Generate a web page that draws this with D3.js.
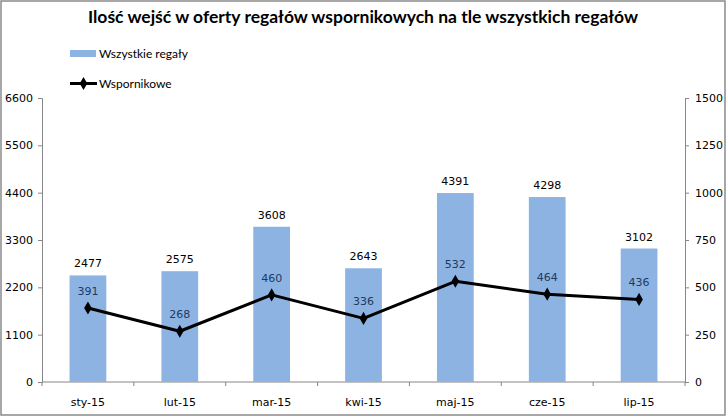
<!DOCTYPE html>
<html>
<head>
<meta charset="utf-8">
<script src="https://cdn.jsdelivr.net/npm/d3@7"></script>
<style>
  body { margin: 0; background: #fff; }
  svg { display: block; }
</style>
</head>
<body>
<div id="chart"></div>
<script>
// chart data
const months = ["sty-15", "lut-15", "mar-15", "kwi-15", "maj-15", "cze-15", "lip-15"];
const allRacks = [2477, 2575, 3608, 2643, 4391, 4298, 3102];
const cantilever = [391, 268, 460, 336, 532, 464, 436];
const leftTicks = [0, 1100, 2200, 3300, 4400, 5500, 6600];
const rightTicks = [0, 250, 500, 750, 1000, 1250, 1500];
const seriesNames = ["Wszystkie regały", "Wspornikowe"];
const title = "Ilość wejść w oferty regałów wspornikowych na tle wszystkich regałów";

const width = 728, height = 417;
const margin = { top: 98, right: 43, bottom: 35, left: 42 };
const barColor = "#8db3e2";
const tickFont = "'DejaVu Sans', Verdana, sans-serif";

const svg = d3.select("#chart").append("svg")
  .attr("width", width).attr("height", height);

// outer border
svg.append("rect")
  .attr("x", 1).attr("y", 1)
  .attr("width", 724).attr("height", 414)
  .attr("fill", "#fff")
  .attr("stroke", "#8a8a8a")
  .attr("stroke-width", 1.5);

// title
svg.append("text")
  .attr("x", 363).attr("y", 23)
  .attr("text-anchor", "middle")
  .style("font-family", "Lato, sans-serif")
  .style("font-weight", "bold")
  .style("font-size", "17.5px")
  .text(title);

// scales
const x = d3.scaleBand()
  .domain(months)
  .range([margin.left, width - margin.right])
  .paddingInner(0.6).paddingOuter(0.3);

const xOuter = d3.scaleBand()
  .domain(months)
  .range([margin.left, width - margin.right]);

const yLeft = d3.scaleLinear()
  .domain([0, 6600])
  .range([height - margin.bottom, margin.top]);

const yRight = d3.scaleLinear()
  .domain([0, 1500])
  .range([height - margin.bottom, margin.top]);

// axes
const gLeft = svg.append("g")
  .attr("transform", `translate(${margin.left},0)`)
  .call(d3.axisLeft(yLeft).tickValues(leftTicks).tickSize(4).tickPadding(5).tickFormat(d3.format("d")));

const gRight = svg.append("g")
  .attr("transform", `translate(${width - margin.right},0)`)
  .call(d3.axisRight(yRight).tickValues(rightTicks).tickSize(4).tickPadding(6).tickFormat(d3.format("d")));

// x axis: ticks at category boundaries
const bottomY = height - margin.bottom;
const gx = svg.append("g");
gx.append("line")
  .attr("x1", margin.left).attr("x2", width - margin.right)
  .attr("y1", bottomY).attr("y2", bottomY)
  .attr("stroke", "#868686");
gx.selectAll("line.bnd")
  .data(months.concat(["end"]))
  .join("line")
  .attr("class", "bnd")
  .attr("x1", (d, i) => i < months.length ? xOuter(d) : xOuter(months[months.length - 1]) + xOuter.bandwidth())
  .attr("x2", (d, i) => i < months.length ? xOuter(d) : xOuter(months[months.length - 1]) + xOuter.bandwidth())
  .attr("y1", bottomY).attr("y2", bottomY + 4)
  .attr("stroke", "#868686");
gx.selectAll("text")
  .data(months)
  .join("text")
  .attr("x", d => xOuter(d) + xOuter.bandwidth() / 2)
  .attr("y", bottomY + 24)
  .attr("text-anchor", "middle")
  .style("font-family", tickFont)
  .style("font-size", "11px")
  .text(d => d);

[gLeft, gRight].forEach(g => {
  g.select(".domain").attr("stroke", "#868686");
  g.selectAll(".tick line").attr("stroke", "#868686");
  g.selectAll(".tick text").style("font-family", tickFont).style("font-size", "11px").attr("fill", "#000");
});

// bars
svg.append("g")
  .selectAll("rect")
  .data(allRacks)
  .join("rect")
  .attr("x", (d, i) => x(months[i]))
  .attr("y", d => yLeft(d))
  .attr("width", x.bandwidth())
  .attr("height", d => yLeft(0) - yLeft(d))
  .attr("fill", barColor);

// bar labels
svg.append("g")
  .selectAll("text")
  .data(allRacks)
  .join("text")
  .attr("x", (d, i) => x(months[i]) + x.bandwidth() / 2)
  .attr("y", d => yLeft(d) - 8)
  .attr("text-anchor", "middle")
  .style("font-family", tickFont)
  .style("font-size", "11px")
  .text(d => d);

// line series
const cx = (d, i) => x(months[i]) + x.bandwidth() / 2;
const line = d3.line()
  .x((d, i) => cx(d, i))
  .y(d => yRight(d));

svg.append("path")
  .datum(cantilever)
  .attr("d", line)
  .attr("fill", "none")
  .attr("stroke", "#000")
  .attr("stroke-width", 3)
  .attr("stroke-linejoin", "round");

const diamond = d3.symbol().type(d3.symbolDiamond).size(50);
svg.append("g")
  .selectAll("path")
  .data(cantilever)
  .join("path")
  .attr("transform", (d, i) => `translate(${cx(d, i)},${yRight(d)})`)
  .attr("d", diamond)
  .attr("fill", "#000");

svg.append("g")
  .selectAll("text")
  .data(cantilever)
  .join("text")
  .attr("x", (d, i) => cx(d, i))
  .attr("y", d => yRight(d) - 13)
  .attr("text-anchor", "middle")
  .style("font-family", tickFont)
  .style("font-size", "11px")
  .attr("fill", "#1f3a5f")
  .text(d => d);

// legend
const legend = svg.append("g").attr("transform", "translate(70,0)");
legend.append("rect")
  .attr("x", 0).attr("y", 50)
  .attr("width", 26).attr("height", 7)
  .attr("fill", barColor);
legend.append("text")
  .attr("x", 29).attr("y", 58)
  .style("font-family", "Lato, sans-serif")
  .style("font-size", "12px")
  .text(seriesNames[0]);
legend.append("line")
  .attr("x1", 0).attr("x2", 27)
  .attr("y1", 83.5).attr("y2", 83.5)
  .attr("stroke", "#000").attr("stroke-width", 3);
legend.append("path")
  .attr("transform", "translate(13.5,83.5)")
  .attr("d", diamond)
  .attr("fill", "#000");
legend.append("text")
  .attr("x", 29).attr("y", 87.5)
  .style("font-family", "Lato, sans-serif")
  .style("font-size", "12px")
  .text(seriesNames[1]);
</script>
</body>
</html>
